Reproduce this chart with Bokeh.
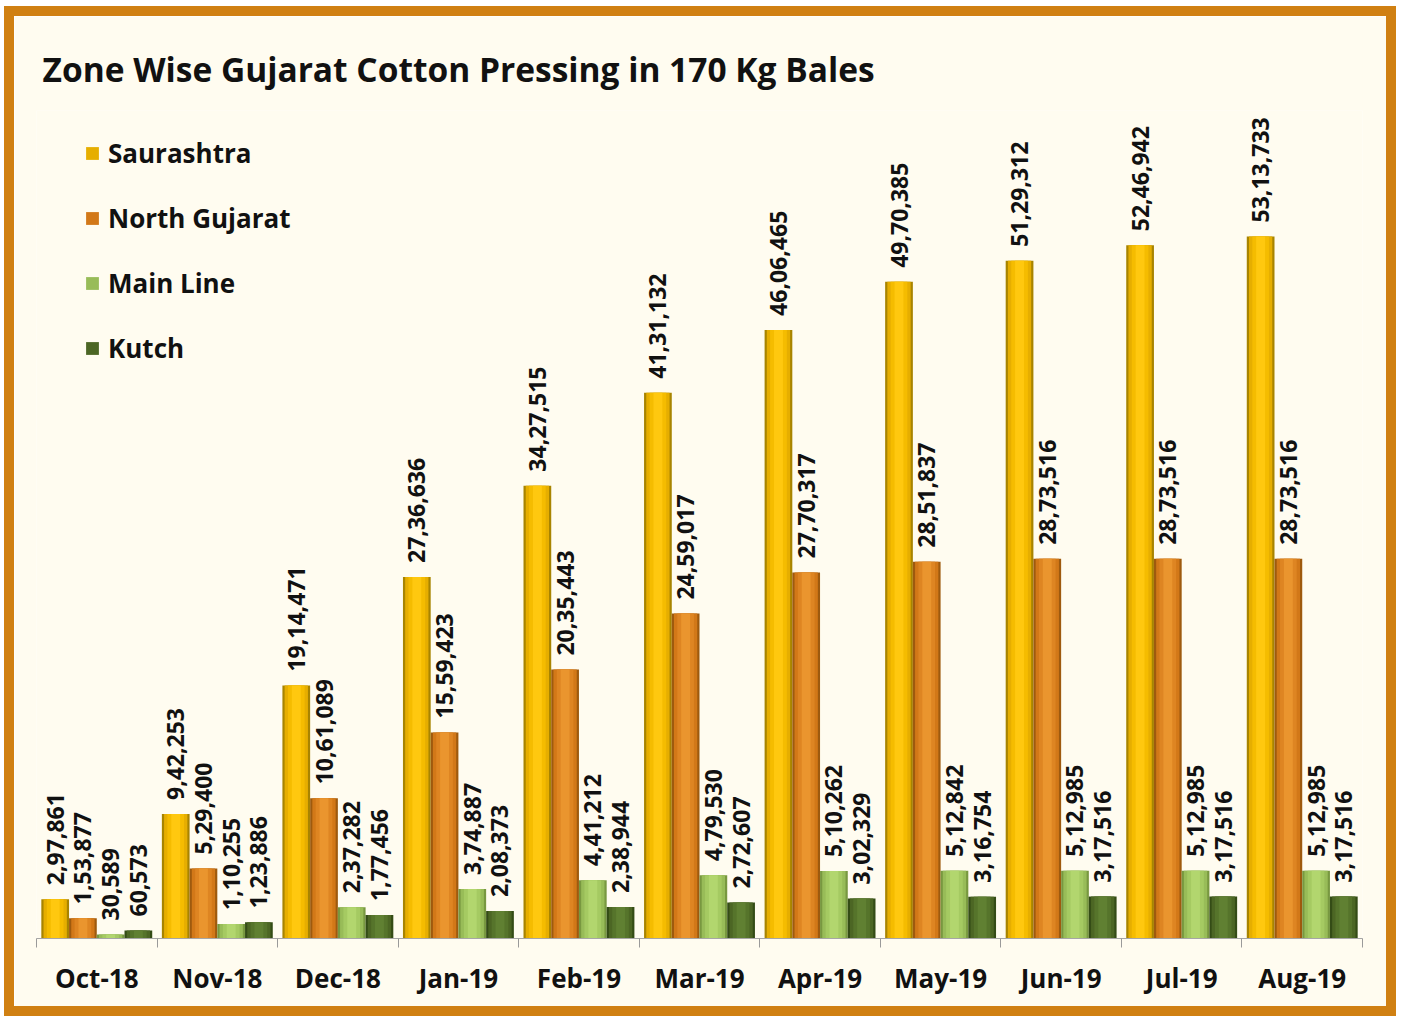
from bokeh.plotting import figure
from bokeh.models import ColumnDataSource, Range1d, FixedTicker, Legend
from bokeh.core.properties import value
from bokeh.embed import file_html
from bokeh.resources import INLINE

months = ["Oct-18", "Nov-18", "Dec-18", "Jan-19", "Feb-19", "Mar-19",
          "Apr-19", "May-19", "Jun-19", "Jul-19", "Aug-19"]
saurashtra = [297861, 942253, 1914471, 2736636, 3427515, 4131132,
              4606465, 4970385, 5129312, 5246942, 5313733]
north_gujarat = [153877, 529400, 1061089, 1559423, 2035443, 2459017,
                 2770317, 2851837, 2873516, 2873516, 2873516]
main_line = [30589, 110255, 237282, 374887, 441212, 479530,
             510262, 512842, 512985, 512985, 512985]
kutch = [60573, 123886, 177456, 208373, 238944, 272607,
         302329, 316754, 317516, 317516, 317516]

series_names = ["Saurashtra", "North Gujarat", "Main Line", "Kutch"]
series_values = [saurashtra, north_gujarat, main_line, kutch]
# shading layers (edge -> centre) to imitate the cylinder-like gradient
shades = [
    ["#A88400", "#E6AE00", "#F5BC00", "#FFC80F"],
    ["#9E5A0E", "#D27818", "#DE8522", "#EA952E"],
    ["#789840", "#98BC58", "#A5CA62", "#B2D66E"],
    ["#344C16", "#4C6624", "#56742B", "#608032"],
]
layer_widths = [1.0, 0.84, 0.6, 0.32]
offsets = [-0.345, -0.115, 0.115, 0.345]
BAR_W = 0.23
FONT = "Open Sans"
BG = "#FFFCF0"


def indian(n):
    s = str(n)
    if len(s) <= 3:
        return s
    head, tail = s[:-3], s[-3:]
    parts = []
    while len(head) > 2:
        parts.insert(0, head[-2:])
        head = head[:-2]
    if head:
        parts.insert(0, head)
    return ",".join(parts) + "," + tail


p = figure(width=1392, height=1010, output_backend="svg", toolbar_location=None,
           x_range=Range1d(-0.5, len(months) - 0.5), y_range=Range1d(0, 6267000),
           min_border_left=22, min_border_right=44, min_border_top=94, min_border_bottom=88)
p.styles = {"border": "10px solid #D08012", "margin": "6px 0px 0px 4px"}
p.background_fill_color = BG
p.border_fill_color = BG
p.outline_line_color = None
p.grid.visible = False
p.yaxis.visible = False

p.title.text = "Zone Wise Gujarat Cotton Pressing in 170 Kg Bales"
p.title.text_font = FONT
p.title.text_font_size = "33.5px"
p.title.text_font_style = "bold"
p.title.text_color = "#111111"
p.title.align = "left"
p.title.offset = 6
p.title.standoff = 38

items = []
for name, vals, cols, off in zip(series_names, series_values, shades, offsets):
    xs = [i + off for i in range(len(months))]
    src = ColumnDataSource(dict(x=xs, top=vals, lab=[indian(v) for v in vals]))
    rs = []
    for frac, col in zip(layer_widths, cols):
        r = p.vbar(x="x", top="top", width=BAR_W * frac, bottom=0, source=src,
                   fill_color=col, line_color=None)
        rs.append(r)
    items.append((name, [rs[1]]))
    p.text(x="x", y="top", text="lab", source=src, angle=1.5708,
           text_align="left", text_baseline="middle", x_offset=0, y_offset=-14,
           text_font=value(FONT), text_font_style="bold", text_font_size="23px",
           text_color="#111111")

ax = p.xaxis[0]
ax.ticker = FixedTicker(ticks=list(range(len(months))),
                        minor_ticks=[i - 0.5 for i in range(len(months) + 1)])
ax.major_label_overrides = {i: m for i, m in enumerate(months)}
ax.major_tick_out = 0
ax.major_tick_in = 0
ax.minor_tick_out = 9
ax.minor_tick_in = 0
ax.minor_tick_line_color = "#9A9A9A"
ax.axis_line_color = "#A6A6A6"
ax.major_label_standoff = 12
ax.major_label_text_font = FONT
ax.major_label_text_font_style = "bold"
ax.major_label_text_font_size = "26px"
ax.major_label_text_color = "#111111"

legend = Legend(items=items, location=(48, 572), orientation="vertical")
legend.background_fill_alpha = 0
legend.border_line_alpha = 0
legend.padding = 0
legend.margin = 0
legend.glyph_width = 16
legend.glyph_height = 16
legend.label_height = 30
legend.spacing = 29
legend.label_standoff = 8
legend.label_text_font = FONT
legend.label_text_font_style = "bold"
legend.label_text_font_size = "26px"
legend.label_text_color = "#111111"
p.add_layout(legend, "center")

open("out.html", "w").write(file_html(p, INLINE))
